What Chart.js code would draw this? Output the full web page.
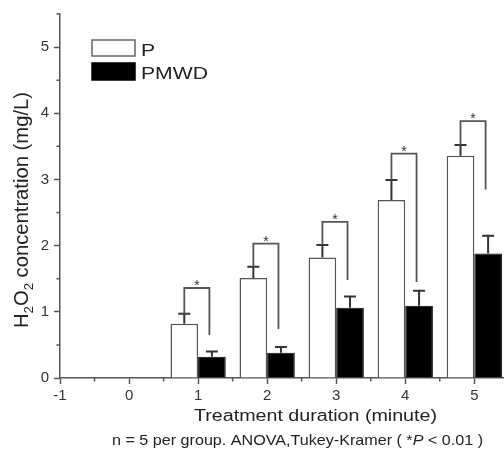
<!DOCTYPE html>
<html><head><meta charset="utf-8">
<script src="https://cdn.jsdelivr.net/npm/chart.js@4"></script>
<style>html,body{margin:0;padding:0;background:#fff;overflow:hidden}</style>
</head><body>
<canvas id="c" width="504" height="455"></canvas>
<script>
const durations = [1, 2, 3, 4, 5];
const seriesNames = ['P', 'PMWD'];
const pMeans = [0.82, 1.51, 1.82, 2.69, 3.36];
const pErr = [0.15, 0.17, 0.19, 0.30, 0.16];
const pmwdMeans = [0.32, 0.38, 1.06, 1.09, 1.88];
const pmwdErr = [0.08, 0.09, 0.17, 0.23, 0.27];
const bracketTop = [1.36, 2.03, 2.36, 3.39, 3.88];
const bracketRightEnd = [0.65, 0.74, 1.48, 1.45, 2.85];
const sigMarks = ['*', '*', '*', '*', '*'];
const xTitle = 'Treatment duration (minute)';
const footnoteParts = ['n = 5 per group. ANOVA,Tukey-Kramer ( *', 'P', ' < 0.01 )'];

const FAM = '"Liberation Sans", Arial, Helvetica, sans-serif';

function drawPieces(ctx, pieces, targetW) {
  let total = 0;
  for (const p of pieces) { ctx.font = p.font; p.w = ctx.measureText(p.t).width; total += p.w; }
  const s = targetW / total;
  ctx.save();
  ctx.scale(s, 1);
  let x = -total / 2;
  for (const p of pieces) {
    ctx.font = p.font;
    ctx.textAlign = 'left';
    ctx.fillText(p.t, x, p.dy || 0);
    x += p.w;
  }
  ctx.restore();
}

const decor = {
  id: 'decor',
  afterDatasetsDraw(chart) {
    const ctx = chart.ctx;
    const xs = chart.scales.x, ys = chart.scales.y;
    const m0 = chart.getDatasetMeta(0), m1 = chart.getDatasetMeta(1);
    ctx.save();
    // error bars
    chart.data.datasets.forEach((ds, di) => {
      const meta = chart.getDatasetMeta(di);
      meta.data.forEach((el, i) => {
        const v = ds.data[i].y, e = ds.err[i];
        const yTop = ys.getPixelForValue(v + e);
        ctx.strokeStyle = '#333';
        ctx.lineWidth = 2;
        ctx.beginPath();
        ctx.moveTo(el.x, el.y);
        ctx.lineTo(el.x, yTop);
        ctx.moveTo(el.x - 6, yTop);
        ctx.lineTo(el.x + 6, yTop);
        ctx.stroke();
      });
    });
    // significance brackets
    durations.forEach((d, i) => {
      const lx = m0.data[i].x;
      const rx = m1.data[i].x - 2.5;
      const yl = ys.getPixelForValue(pMeans[i] + pErr[i]);
      const yt = ys.getPixelForValue(bracketTop[i]);
      const yr = ys.getPixelForValue(bracketRightEnd[i]);
      ctx.strokeStyle = '#555';
      ctx.lineWidth = 1.8;
      ctx.beginPath();
      ctx.moveTo(lx, yl);
      ctx.lineTo(lx, yt);
      ctx.lineTo(rx, yt);
      ctx.lineTo(rx, yr);
      ctx.stroke();
      ctx.fillStyle = '#333';
      ctx.font = '14px ' + FAM;
      ctx.textAlign = 'center';
      ctx.textBaseline = 'alphabetic';
      ctx.fillText(sigMarks[i], (lx + rx) / 2, yt + 2);
    });
    // minor ticks
    ctx.strokeStyle = '#555';
    ctx.lineWidth = 1.5;
    ctx.beginPath();
    xs.ticks.forEach(t => {
      if (!Number.isInteger(t.value)) {
        const px = xs.getPixelForValue(t.value);
        ctx.moveTo(px, xs.top); ctx.lineTo(px, xs.top + 3.5);
      }
    });
    ys.ticks.forEach(t => {
      if (!Number.isInteger(t.value)) {
        const py = ys.getPixelForValue(t.value);
        ctx.moveTo(ys.right - 3.5, py); ctx.lineTo(ys.right, py);
      }
    });
    ctx.stroke();
    // legend
    const boxes = [[92, 40, 43, 16], [92, 63, 43, 17]];
    const baselines = [56, 79];
    ctx.font = '16px ' + FAM;
    const sLeg = 67 / ctx.measureText(chart.data.datasets[1].label).width;
    chart.data.datasets.forEach((ds, di) => {
      const b = boxes[di];
      ctx.fillStyle = ds.backgroundColor;
      ctx.fillRect(b[0], b[1], b[2], b[3]);
      ctx.strokeStyle = di === 0 ? '#666' : '#000';
      ctx.lineWidth = 1.5;
      ctx.strokeRect(b[0], b[1], b[2], b[3]);
      ctx.save();
      ctx.translate(141, baselines[di]);
      ctx.scale(sLeg, 1);
      ctx.fillStyle = '#222';
      ctx.textAlign = 'left';
      ctx.textBaseline = 'alphabetic';
      ctx.font = '16px ' + FAM;
      ctx.fillText(ds.label, 0, 0);
      ctx.restore();
    });
    // y title (rotated, with subscripts)
    ctx.fillStyle = '#222';
    ctx.textBaseline = 'alphabetic';
    ctx.save();
    ctx.translate(28, 210);
    ctx.rotate(-Math.PI / 2);
    const big = '20px ' + FAM, small = '13px ' + FAM;
    drawPieces(ctx, [
      {t: 'H', font: big}, {t: '2', font: small, dy: 5},
      {t: 'O', font: big}, {t: '2', font: small, dy: 5},
      {t: ' concentration (mg/L)', font: big}
    ], 236);
    ctx.restore();
    // x title
    ctx.save();
    ctx.translate(315.5, 421);
    drawPieces(ctx, [{t: xTitle, font: '16px ' + FAM}], 243);
    ctx.restore();
    // footnote
    ctx.save();
    ctx.translate(297.5, 445);
    drawPieces(ctx, [
      {t: footnoteParts[0], font: '15px ' + FAM},
      {t: footnoteParts[1], font: 'italic 15px ' + FAM},
      {t: footnoteParts[2], font: '15px ' + FAM}
    ], 371);
    ctx.restore();
    ctx.restore();
  }
};

const tickFont = {family: FAM, size: 15};
const isMajor = v => Number.isInteger(v);

new Chart(document.getElementById('c'), {
  type: 'bar',
  data: {
    datasets: [
      {label: seriesNames[0], data: durations.map((d, i) => ({x: d, y: pMeans[i]})),
       backgroundColor: '#ffffff', borderColor: '#555', borderWidth: 1.5, err: pErr},
      {label: seriesNames[1], data: durations.map((d, i) => ({x: d, y: pmwdMeans[i]})),
       backgroundColor: '#000000', borderColor: '#000000', borderWidth: 1, err: pmwdErr}
    ]
  },
  options: {
    responsive: false,
    animation: false,
    devicePixelRatio: 1,
    layout: {padding: {top: 12, left: 0, right: 0, bottom: 0}},
    datasets: {bar: {categoryPercentage: 1.6, barPercentage: 1.0}},
    plugins: {legend: {display: false}, tooltip: {enabled: false}},
    scales: {
      x: {
        type: 'linear', min: -1, max: 5.43, offset: false,
        ticks: {stepSize: 0.5, includeBounds: false, autoSkip: false, maxRotation: 0, minRotation: 0,
                callback: v => isMajor(v) ? String(v) : '', font: tickFont, color: '#333', padding: 3},
        grid: {drawOnChartArea: false, drawTicks: true, tickLength: 6, tickWidth: 1.5, offset: false,
               tickColor: c => isMajor(c.tick.value) ? '#555' : 'rgba(0,0,0,0)'},
        border: {color: '#555', width: 1.5},
        afterFit: s => { s.height = 77; }
      },
      y: {
        min: 0, max: 5.5,
        ticks: {stepSize: 0.5, includeBounds: false, autoSkip: false,
                callback: v => isMajor(v) ? String(v) : '', font: tickFont, color: '#333', padding: 5},
        grid: {drawOnChartArea: false, drawTicks: true, tickLength: 6, tickWidth: 1.5,
               tickColor: c => isMajor(c.tick.value) ? '#555' : 'rgba(0,0,0,0)'},
        border: {color: '#555', width: 1.5},
        afterFit: s => { s.width = 60; }
      }
    }
  },
  plugins: [decor]
});
</script>
</body></html>
